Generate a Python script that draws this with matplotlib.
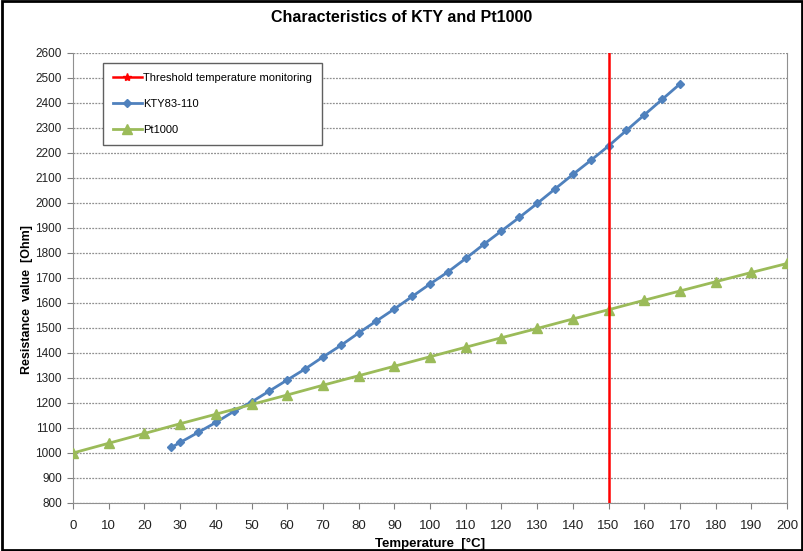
import numpy as np
import matplotlib.pyplot as plt
from matplotlib.patches import Rectangle

# ---- data ----
kty_temp = [27.5, 30, 35, 40, 45, 50, 55, 60, 65, 70, 75, 80, 85, 90, 95, 100,
            105, 110, 115, 120, 125, 130, 135, 140, 145, 150, 155, 160, 165, 170]
kty_res = [1022, 1042, 1082, 1122, 1166, 1204, 1248, 1292, 1336, 1384, 1430, 1480,
           1528, 1576, 1626, 1676, 1724, 1778, 1834, 1888, 1942, 1998, 2056, 2114,
           2170, 2228, 2290, 2352, 2414, 2476]
pt_temp = [0, 10, 20, 30, 40, 50, 60, 70, 80, 90, 100, 110, 120, 130, 140, 150,
           160, 170, 180, 190, 200]
pt_res = [1000, 1039, 1078, 1117, 1155, 1194, 1232, 1271, 1309, 1347, 1385, 1423,
          1461, 1498, 1536, 1573, 1611, 1648, 1685, 1722, 1758]
thr_temp = [150, 150]
thr_res = [800, 2600]

plt.rcParams['font.family'] = ['DejaVu Sans Condensed', 'Liberation Sans', 'DejaVu Sans']

fig = plt.figure(figsize=(8.04, 5.51), dpi=100)
ax = fig.add_axes([73/804, 1-503/551, (787-73)/804, (503-53)/551])

ax.plot(thr_temp, thr_res, color='#FF0000', lw=1.8, marker='*', markevery=[],
        label='Threshold temperature monitoring', zorder=4)
ax.plot(kty_temp, kty_res, color='#4F81BD', lw=2, marker='D', ms=4.5,
        label='KTY83-110', zorder=3)
ax.plot(pt_temp, pt_res, color='#9BBB59', lw=2, marker='^', ms=6.5,
        label='Pt1000', zorder=3)

ax.set_xlim(0, 200)
ax.set_ylim(800, 2600)
ax.set_xticks(np.arange(0, 201, 10))
ax.set_yticks(np.arange(800, 2601, 100))
ax.tick_params(labelsize=9.5, length=4, color='#808080', colors='#222222')
ax.tick_params(axis='x', pad=8)
ax.tick_params(axis='y', labelsize=8.5, pad=4)
ax.yaxis.grid(True, color='#909090', ls=(0, (1.5, 1)), lw=0.9)
ax.set_axisbelow(True)
for s in ax.spines.values():
    s.set_color('#909090')
ax.spines['top'].set_visible(False)

fig.text(430/804, 1-544/551, 'Temperature  [°C]', ha='center', va='center',
         fontsize=9.5, fontweight='bold')
fig.text(27/804, 1-300/551, 'Resistance  value  [Ohm]', ha='center', va='center',
         rotation=90, fontsize=9, fontweight='bold')
fig.text(0.5, 1-18/551, 'Characteristics of KTY and Pt1000', ha='center', va='center',
         fontsize=11.5, fontweight='bold')

leg = ax.legend(loc='upper left', bbox_to_anchor=(30/714, 1-10/450), fontsize=8,
                labelspacing=1.45, handlelength=2.6, handletextpad=0.1,
                borderpad=0.9, borderaxespad=0, frameon=True, fancybox=False,
                framealpha=1)
leg.get_frame().set_edgecolor('#606060')
leg.get_frame().set_linewidth(1)

fig.patches.append(Rectangle((0.002, 0.002), 0.996, 0.996, transform=fig.transFigure,
                             fill=False, edgecolor='black', lw=2))

fig.savefig('out.png', dpi=100)
